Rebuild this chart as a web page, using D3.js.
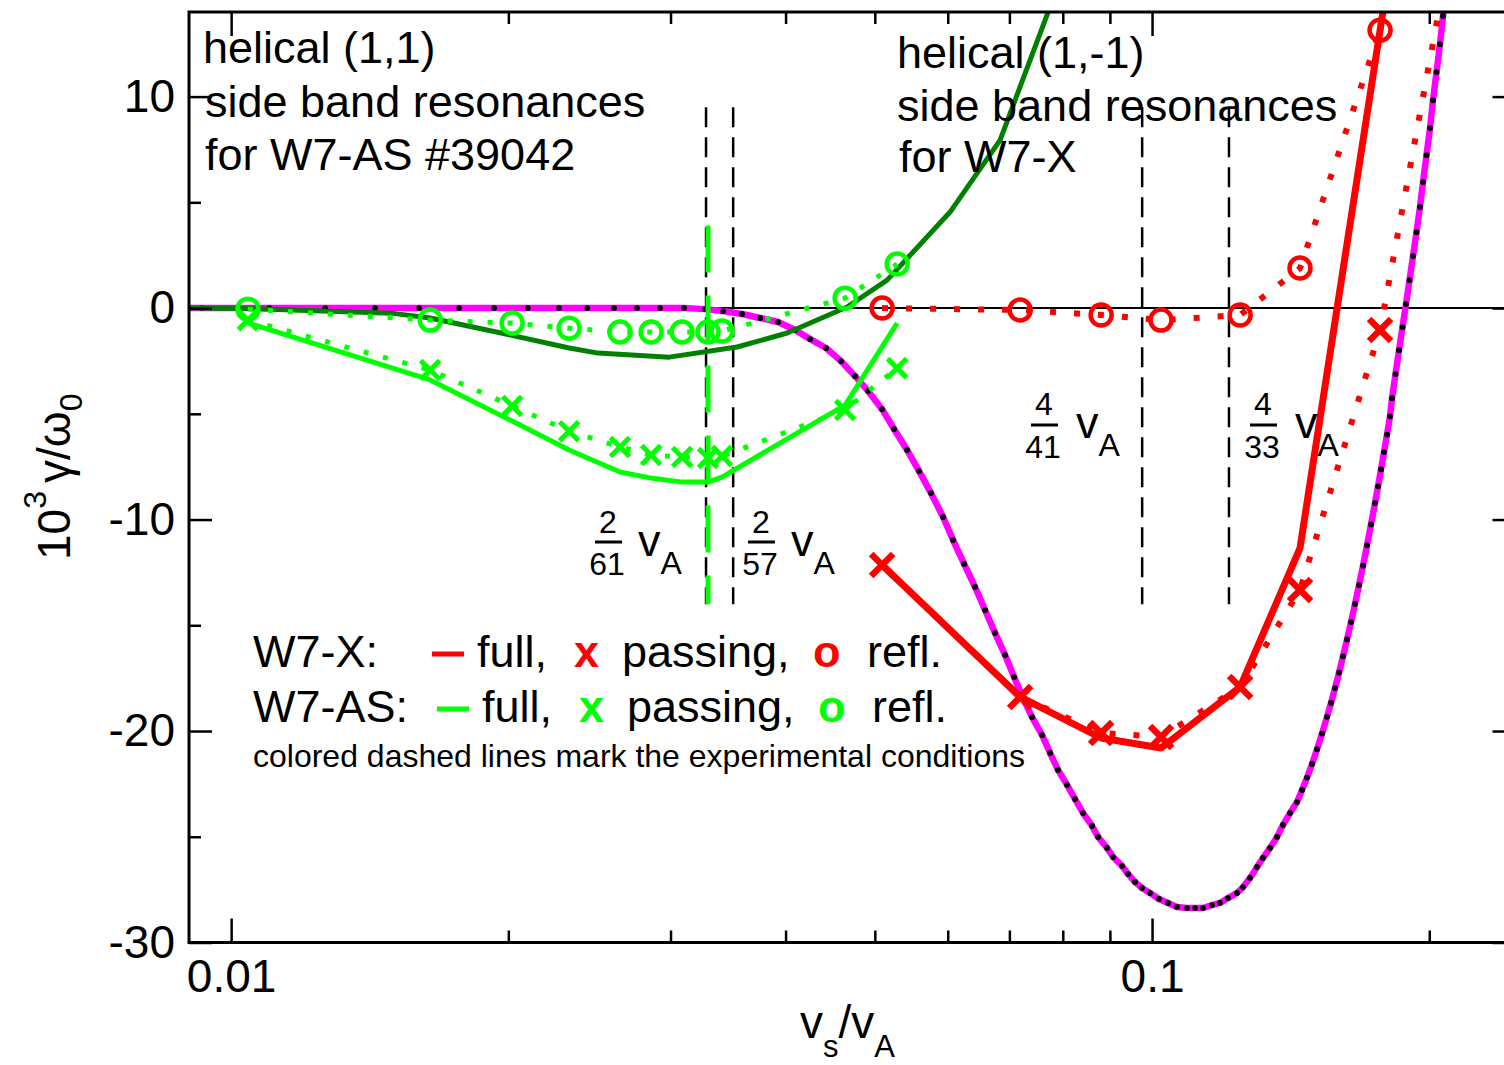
<!DOCTYPE html>
<html>
<head>
<meta charset="utf-8">
<script src="https://cdn.jsdelivr.net/npm/d3@7"></script>
<style>
  html, body { margin: 0; padding: 0; background: #fff; }
  svg { display: block; font-family: "Liberation Sans", Arial, Helvetica, sans-serif; }
</style>
</head>
<body>
<svg id="chart" width="1504" height="1065"></svg>
<script>
// ---------------------------------------------------------------
// Growth rate 10^3 gamma/omega_0 versus v_s/v_A
// ---------------------------------------------------------------

// Reference curve (magenta line, black dots at its sample points)
const refV = [0.009, 0.0093, 0.0110, 0.01265, 0.01433, 0.0160, 0.01768, 0.0193, 0.0210, 0.0227, 0.02436,
  0.02605, 0.02759, 0.02922, 0.03103, 0.0327, 0.03422, 0.03588, 0.03754, 0.03926, 0.04097,
  0.04254, 0.04426, 0.04595, 0.04759, 0.04916, 0.05091, 0.05247, 0.0542, 0.05585, 0.05754,
  0.05931, 0.0608, 0.06251, 0.06424, 0.06587, 0.06754, 0.06925, 0.07083, 0.07243, 0.07408,
  0.07596, 0.0775, 0.07905, 0.08085, 0.08249, 0.08416, 0.08608, 0.08738, 0.08936, 0.09073,
  0.09278, 0.09418, 0.09584, 0.09753, 0.0995, 0.10176, 0.10408, 0.10644, 0.10914, 0.11135,
  0.1136, 0.11617, 0.11852, 0.12092, 0.12368, 0.12554, 0.12776, 0.13002, 0.13198, 0.13431,
  0.13668, 0.13875, 0.1412, 0.14369, 0.14552, 0.14734, 0.14919, 0.15107, 0.15297, 0.15489,
  0.15645, 0.15802, 0.15961, 0.16121, 0.16283, 0.16447, 0.16612, 0.16779, 0.16948, 0.17118,
  0.1729, 0.17464, 0.17596, 0.17728, 0.17861, 0.17996, 0.18131, 0.18222, 0.18382, 0.18544,
  0.18707, 0.18871, 0.19037, 0.19204, 0.19373, 0.19543, 0.1969, 0.19863, 0.20038, 0.20188,
  0.20366, 0.20545, 0.207, 0.20856];
const refG = [0, 0, 0, 0, 0, 0, 0, 0, 0, 0, 0,
  0, 0, 0, 0, -0.05, -0.14, -0.28, -0.47, -0.66, -1.04,
  -1.47, -1.89, -2.51, -3.22, -3.92, -4.78, -5.72, -6.71, -7.71, -8.75,
  -9.88, -10.97, -12.10, -13.19, -14.28, -15.37, -16.41, -17.45, -18.44, -19.34,
  -20.19, -21.04, -21.84, -22.55, -23.22, -23.88, -24.49, -25.01, -25.53, -25.96,
  -26.38, -26.76, -27.14, -27.42, -27.66, -27.94, -28.13, -28.32, -28.37, -28.37,
  -28.37, -28.23, -28.13, -27.90, -27.66, -27.38, -26.95, -26.43, -26.00, -25.53,
  -25.01, -24.44, -23.88, -23.36, -22.79, -22.20, -21.56, -20.86, -20.12, -19.33,
  -18.67, -17.97, -17.24, -16.47, -15.67, -14.85, -13.99, -13.10, -12.18, -11.22,
  -10.23, -9.22, -8.43, -7.63, -6.81, -5.98, -5.12, -4.26, -3.12, -1.99,
  -0.90, 0.19, 1.32, 2.46, 3.59, 4.78, 5.96, 7.23, 8.51, 9.83,
  11.16, 12.48, 13.81, 15.13];

// W7-AS, helical (1,1) side band
const asV           = [0.01043, 0.01645, 0.02019, 0.02328, 0.02644, 0.02858, 0.03088, 0.03295, 0.03412, 0.04642, 0.05287];
const asPassing     = [-0.57, -2.93, -4.63, -5.82, -6.57, -6.95, -7.04, -7.09, -7.00, -4.82, -2.84];
const asRefl        = [-0.05, -0.57, -0.71, -0.95, -1.13, -1.13, -1.13, -1.13, -1.09, 0.47, 2.08];
const asPassingFull = [-0.71, -3.40, -5.34, -6.71, -7.75, -8.04, -8.23, -8.23, -7.99, -4.59, -0.71];
const asReflFullV   = [0.009026, 0.010434, 0.014919, 0.016446, 0.019642, 0.023282, 0.025034, 0.029907,
  0.035431, 0.040158, 0.046649, 0.051563, 0.060349, 0.068391, 0.079453];
const asReflFull    = [0, -0.02, -0.24, -0.47, -1.18, -1.89, -2.13, -2.32,
  -1.84, -1.18, 0.05, 1.32, 4.54, 7.94, 15.5];

// W7-X, helical (1,-1) side band
const xV        = [0.05092, 0.07190, 0.08805, 0.10227, 0.12464, 0.14477, 0.17685, 0.2086];
const xPassing  = [-12.15, -18.39, -20.09, -20.28, -17.92, -13.33, -1.04, 15.9];
const xRefl     = [0.0, -0.09, -0.33, -0.57, -0.33, 1.89, 13.14, null];
const xFull     = [-12.15, -18.39, -20.33, -20.80, -17.92, -11.35, 13.14, 32.9];

// Side band resonances (numerator / denominator of v_A)
const resNum = [2, 2, 4, 4];
const resDen = [61, 57, 41, 33];
const resSpan = [9.5, -14.0];
// Experimental condition of W7-AS
const expV = 0.03295;
const expSpan = [3.9, -14.0];

// Axis ticks
const xMajor = [0.01, 0.1];
const xMajorLabels = ["0.01", "0.1"];
const xMinor = [0.02, 0.03, 0.04, 0.05, 0.06, 0.07, 0.08, 0.09, 0.2];
const yMajor = [-30, -20, -10, 0, 10];
const yMajorLabels = ["-30", "-20", "-10", "0", "10"];
const yMinor = [-25, -15, -5, 5];

// Colours
const C = { magenta: "#ff00ff", red: "#ff0000", green: "#00ff00", dark: "#008000", black: "#000" };

// ---------------------------------------------------------------
const svg = d3.select("#chart");
const L = 189, R = 1518.5, T = 12, B = 942.5;
const x = d3.scaleLog().domain([0.009, 0.25]).range([L, R]);
const y = d3.scaleLinear().domain([-30, 14]).range([B, T]);

svg.append("defs").append("clipPath").attr("id", "plotClip")
  .append("rect").attr("x", L).attr("y", T).attr("width", R - L).attr("height", B - T);

const plot = svg.append("g").attr("clip-path", "url(#plotClip)");

const zip = (vs, gs) => vs.map((v, i) => ({ v, g: gs[i] }));
const line = d3.line().defined(d => d.g != null).x(d => x(d.v)).y(d => y(d.g));

// zero line
plot.append("line").attr("x1", L).attr("x2", R).attr("y1", y(0)).attr("y2", y(0))
  .attr("stroke", C.black).attr("stroke-width", 2);

// resonance markers
const resV = resNum.map((n, i) => n / resDen[i]);
plot.selectAll("line.res").data(resV).join("line").attr("class", "res")
  .attr("x1", d => x(d)).attr("x2", d => x(d))
  .attr("y1", y(resSpan[0])).attr("y2", y(resSpan[1]))
  .attr("stroke", C.black).attr("stroke-width", 2.5).attr("stroke-dasharray", "20,10");

// reference curve
const refData = zip(refV, refG);
plot.append("path").datum(refData).attr("d", line)
  .attr("fill", "none").attr("stroke", C.magenta).attr("stroke-width", 6.5).attr("stroke-linejoin", "round");
plot.selectAll("circle.refdot").data(refData).join("circle").attr("class", "refdot")
  .attr("cx", d => x(d.v)).attr("cy", d => y(d.g)).attr("r", 2.9).attr("fill", C.black);

// W7-AS curves
plot.append("path").datum(zip(asReflFullV, asReflFull)).attr("d", line)
  .attr("fill", "none").attr("stroke", C.dark).attr("stroke-width", 5).attr("stroke-linejoin", "round");
plot.append("path").datum(zip(asV, asPassingFull)).attr("d", line)
  .attr("fill", "none").attr("stroke", C.green).attr("stroke-width", 5).attr("stroke-linejoin", "round");
plot.append("path").datum(zip(asV, asPassing)).attr("d", line)
  .attr("fill", "none").attr("stroke", C.green).attr("stroke-width", 5).attr("stroke-dasharray", "5,15");
plot.append("path").datum(zip(asV, asRefl)).attr("d", line)
  .attr("fill", "none").attr("stroke", C.green).attr("stroke-width", 5).attr("stroke-dasharray", "5,15");

function crosses(g, data, color, s, w) {
  g.selectAll(null).data(data.filter(d => d.g != null)).join("path")
    .attr("transform", d => `translate(${x(d.v)},${y(d.g)})`)
    .attr("d", `M${-s},${-s}L${s},${s}M${-s},${s}L${s},${-s}`)
    .attr("stroke", color).attr("stroke-width", w).attr("fill", "none");
}
function rings(g, data, color, r, w) {
  g.selectAll(null).data(data.filter(d => d.g != null)).join("circle")
    .attr("cx", d => x(d.v)).attr("cy", d => y(d.g)).attr("r", r)
    .attr("stroke", color).attr("stroke-width", w).attr("fill", "none");
}
crosses(plot, zip(asV, asPassing), C.green, 9.5, 5);
rings(plot, zip(asV, asRefl), C.green, 10.5, 4.5);

// experimental condition line
plot.append("line").attr("x1", x(expV)).attr("x2", x(expV))
  .attr("y1", y(expSpan[0])).attr("y2", y(expSpan[1]))
  .attr("stroke", C.green).attr("stroke-width", 5).attr("stroke-dasharray", "47,23");

// W7-X curves
plot.append("path").datum(zip(xV, xRefl)).attr("d", line)
  .attr("fill", "none").attr("stroke", C.red).attr("stroke-width", 6).attr("stroke-dasharray", "6,18");
plot.append("path").datum(zip(xV, xPassing)).attr("d", line)
  .attr("fill", "none").attr("stroke", C.red).attr("stroke-width", 6).attr("stroke-dasharray", "6,18");
plot.append("path").datum(zip(xV, xFull)).attr("d", line)
  .attr("fill", "none").attr("stroke", C.red).attr("stroke-width", 7).attr("stroke-linejoin", "round");
crosses(plot, zip(xV, xPassing), C.red, 11, 6.5);
rings(plot, zip(xV, xRefl), C.red, 10.5, 4.5);

// ---------------------------------------------------------------
// Frame and ticks
const axes = svg.append("g");
function styleAxis(g) {
  g.select(".domain").remove();
  g.selectAll(".tick line").attr("stroke", C.black).attr("stroke-width", 2.5);
  g.selectAll(".tick text").attr("fill", C.black).attr("font-size", 46)
    .attr("font-family", "'Liberation Sans', Arial, sans-serif");
}
axes.append("g").attr("transform", `translate(0,${B})`)
  .call(d3.axisBottom(x).tickValues(xMajor).tickSizeInner(-24).tickSizeOuter(0).tickPadding(17)
    .tickFormat((d, i) => xMajorLabels[i])).call(styleAxis);
axes.append("g").attr("transform", `translate(0,${B})`)
  .call(d3.axisBottom(x).tickValues(xMinor).tickSizeInner(-12).tickSizeOuter(0).tickFormat(""))
  .call(styleAxis);
axes.append("g").attr("transform", `translate(0,${T})`)
  .call(d3.axisTop(x).tickValues(xMajor).tickSizeInner(-24).tickSizeOuter(0).tickFormat(""))
  .call(styleAxis);
axes.append("g").attr("transform", `translate(0,${T})`)
  .call(d3.axisTop(x).tickValues(xMinor).tickSizeInner(-12).tickSizeOuter(0).tickFormat(""))
  .call(styleAxis);
axes.append("g").attr("transform", `translate(${L},0)`)
  .call(d3.axisLeft(y).tickValues(yMajor).tickSizeInner(-23).tickSizeOuter(0).tickPadding(14)
    .tickFormat((d, i) => yMajorLabels[i])).call(styleAxis);
axes.append("g").attr("transform", `translate(${L},0)`)
  .call(d3.axisLeft(y).tickValues(yMinor).tickSizeInner(-12).tickSizeOuter(0).tickFormat(""))
  .call(styleAxis);
axes.append("g").attr("transform", `translate(${R},0)`)
  .call(d3.axisRight(y).tickValues(yMajor).tickSizeInner(-26).tickSizeOuter(0).tickFormat(""))
  .call(styleAxis);
axes.append("g").attr("transform", `translate(${R},0)`)
  .call(d3.axisRight(y).tickValues(yMinor).tickSizeInner(-13).tickSizeOuter(0).tickFormat(""))
  .call(styleAxis);
axes.append("rect").attr("x", L).attr("y", T).attr("width", R - L).attr("height", B - T)
  .attr("fill", "none").attr("stroke", C.black).attr("stroke-width", 3);

// ---------------------------------------------------------------
// Axis titles
const yt = svg.append("text").attr("transform", "translate(70,560) rotate(-90)")
  .attr("font-size", 46).attr("fill", C.black);
yt.append("tspan").text("10");
yt.append("tspan").attr("font-size", 32).attr("dy", -24).text("3");
yt.append("tspan").attr("font-size", 46).attr("dy", 24).attr("dx", 8).text("γ/ω");
yt.append("tspan").attr("font-size", 32).attr("dy", 12).text("0");

const xt = svg.append("text").attr("x", 800).attr("y", 1038).attr("font-size", 46).attr("fill", C.black);
xt.append("tspan").text("v");
xt.append("tspan").attr("font-size", 31).attr("dy", 19).text("s");
xt.append("tspan").attr("font-size", 46).attr("dy", -19).text("/v");
xt.append("tspan").attr("font-size", 31).attr("dy", 19).text("A");

// ---------------------------------------------------------------
// Annotations
const notes = svg.append("g").attr("font-size", 45).attr("fill", C.black);
[["helical (1,1)", 203, 63], ["side band resonances", 205, 117], ["for W7-AS #39042", 205, 170],
 ["helical (1,-1)", 897, 68], ["side band resonances", 897, 121], ["for W7-X", 899, 172]]
  .forEach(([t, tx, ty]) => notes.append("text").attr("x", tx).attr("y", ty).text(t));

// fraction labels of the resonances
const fracPos = [[608, 533, 542, 575, 638], [761, 533, 542, 575, 791],
                 [1044, 415, 425, 458, 1076], [1263, 415, 425, 458, 1295]];
resNum.forEach((n, i) => {
  const [cx, ny, by, dy, vx] = fracPos[i];
  const g = svg.append("g").attr("fill", C.black);
  g.append("text").attr("x", cx).attr("y", ny).attr("font-size", 32).attr("text-anchor", "middle").text(n);
  g.append("line").attr("x1", cx - 13).attr("x2", cx + 14).attr("y1", by).attr("y2", by)
    .attr("stroke", C.black).attr("stroke-width", 3);
  g.append("text").attr("x", cx - 1).attr("y", dy).attr("font-size", 32).attr("text-anchor", "middle").text(resDen[i]);
  const t = g.append("text").attr("x", vx).attr("y", ny + 23).attr("font-size", 45).text("v");
  t.append("tspan").attr("font-size", 32).attr("dy", 18).text("A");
});

// legend
const leg = svg.append("g").attr("font-size", 45).attr("fill", C.black);
function legendRow(yb, name, color, off) {
  leg.append("text").attr("x", 253).attr("y", yb).text(name);
  leg.append("line").attr("x1", 432 + off).attr("x2", 464 + off).attr("y1", yb - 13).attr("y2", yb - 13)
    .attr("stroke", color).attr("stroke-width", 5);
  leg.append("text").attr("x", 477 + off).attr("y", yb).text("full,");
  leg.append("text").attr("x", 574 + off).attr("y", yb).attr("font-weight", "bold").attr("fill", color).text("x");
  leg.append("text").attr("x", 622 + off).attr("y", yb).text("passing,");
  leg.append("text").attr("x", 813 + off).attr("y", yb).attr("font-weight", "bold").attr("fill", color).text("o");
  leg.append("text").attr("x", 867 + off).attr("y", yb).text("refl.");
}
legendRow(667, "W7-X:", C.red, 0);
legendRow(722, "W7-AS:", C.green, 5);
leg.append("text").attr("x", 253).attr("y", 767).attr("font-size", 32)
  .text("colored dashed lines mark the experimental conditions");
</script>
</body>
</html>
